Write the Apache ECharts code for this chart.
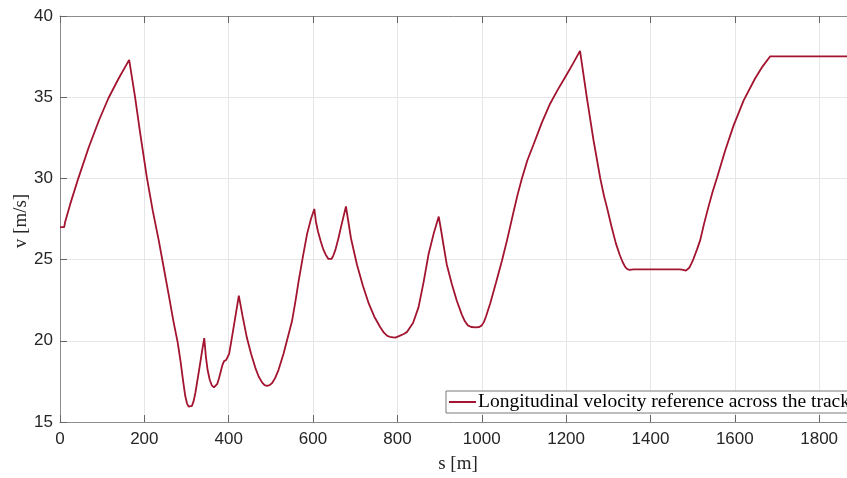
<!DOCTYPE html>
<html>
<head>
<meta charset="utf-8">
<script src="https://cdn.jsdelivr.net/npm/echarts@6/dist/echarts.min.js"></script>
<style>
  html, body { margin: 0; padding: 0; background: #fff; }
  #chart { width: 847px; height: 478px; }
</style>
</head>
<body>
<div id="chart"></div>
<script>
// Distance along the track [m]
const trackS = [
  0, 10, 12, 24, 44, 68, 92, 115, 139, 164, 178, 190, 206, 220, 234, 246, 258, 269, 279, 286,
  292, 297, 301, 305, 309, 313, 317, 321, 326, 331, 337, 342, 346, 350, 355, 360, 365, 369, 373, 377,
  381, 385, 389, 394, 398, 401, 405, 414, 424, 433, 443, 453, 463, 471, 479, 485, 491, 497, 503, 510,
  518, 530, 540, 550, 558, 566, 576, 586, 595, 603, 607, 612, 618, 624, 630, 636, 640, 644, 648, 653,
  660, 668, 678, 690, 704, 718, 732, 745, 759, 768, 776, 785, 795, 805, 815, 823, 837, 850, 862, 874,
  886, 898, 903, 908, 917, 929, 941, 953, 960, 967, 975, 985, 994, 1000, 1005, 1010, 1020, 1034, 1048, 1060,
  1075, 1085, 1095, 1108, 1123, 1142, 1162, 1180, 1198, 1216, 1233, 1249, 1265, 1281, 1290, 1297, 1307, 1318, 1327, 1334,
  1340, 1345, 1350, 1360, 1400, 1470, 1478, 1484, 1488, 1492, 1497, 1502, 1510, 1518, 1527, 1537, 1547, 1558, 1577, 1597,
  1621, 1648, 1666, 1684, 1870
];
// Reference longitudinal velocity [m/s]
const speedRef = [
  27.0, 27.0, 27.3, 28.4, 30.05, 31.9, 33.55, 34.95, 36.15, 37.3, 35.0, 32.8, 30.05, 28.0, 26.2, 24.5, 22.8, 21.2, 19.9, 18.7,
  17.5, 16.6, 16.15, 15.95, 15.9, 16.0, 16.3, 16.8, 17.6, 18.4, 19.4, 20.17, 19.0, 18.2, 17.6, 17.25, 17.13, 17.15, 17.35, 17.7,
  18.1, 18.5, 18.75, 18.82, 18.9, 19.2, 19.8, 21.2, 22.78, 21.5, 20.2, 19.2, 18.35, 17.8, 17.44, 17.27, 17.23, 17.27, 17.4, 17.7,
  18.2, 19.2, 20.2, 21.2, 22.4, 23.7, 25.2, 26.6, 27.5, 28.12, 27.3, 26.7, 26.15, 25.65, 25.3, 25.05, 25.0, 25.05, 25.25, 25.6,
  26.3, 27.2, 28.27, 26.3, 24.7, 23.4, 22.3, 21.5, 20.85, 20.5, 20.3, 20.22, 20.2, 20.3, 20.42, 20.55, 21.1, 22.06, 23.6, 25.35,
  26.6, 27.65, 26.9, 26.1, 24.7, 23.5, 22.45, 21.6, 21.2, 20.95, 20.85, 20.83, 20.85, 20.95, 21.15, 21.5, 22.3, 23.6, 24.95, 26.2,
  27.9, 29.0, 29.98, 31.1, 32.1, 33.4, 34.6, 35.45, 36.24, 37.05, 37.85, 35.0, 32.35, 30.0, 28.9, 28.2, 27.1, 26.0, 25.3, 24.85,
  24.55, 24.42, 24.37, 24.4, 24.4, 24.4, 24.37, 24.32, 24.35, 24.5, 24.75, 25.05, 25.6, 26.2, 27.2, 28.2, 29.15, 30.05, 31.7, 33.25,
  34.8, 36.15, 36.9, 37.52, 37.52
];
const seriesName = 'Longitudinal velocity reference across the track';
const xLabel = 's [m]';
const yLabel = 'v [m/s]';

const chart = echarts.init(document.getElementById('chart'), null, { renderer: 'canvas' });

const axisGrey = '#8c8c8c';
const labelColor = '#262626';
const tickFont = { fontFamily: 'Liberation Sans, Arial, sans-serif', fontSize: 17, color: labelColor };
const serifFont = 'Liberation Serif, Times New Roman, serif';

const xCommon = {
  type: 'value', min: 0, max: 1866, interval: 200,
  axisLine: { show: true, onZero: false, lineStyle: { color: axisGrey, width: 1 } },
  axisTick: { show: true, inside: true, length: 7, lineStyle: { color: '#666' } }
};

chart.setOption({
  animation: false,
  backgroundColor: '#fff',
  grid: { left: 60, top: 16, right: 0, bottom: 56, containLabel: false },
  legend: {
    show: true,
    left: 446, top: 391,
    orient: 'horizontal',
    backgroundColor: '#fff',
    borderColor: '#7a7a7a', borderWidth: 1,
    padding: [1, 6, 1, 3],
    itemWidth: 27, itemHeight: 2, itemGap: 0,
    icon: 'rect',
    textStyle: { fontFamily: serifFont, fontSize: 19.5, color: '#000', padding: [0, 0, 0, -3] },
    data: [seriesName]
  },
  xAxis: [
    Object.assign({}, xCommon, {
      position: 'bottom',
      axisLabel: Object.assign({ margin: 9, showMaxLabel: false, formatter: v => String(v) }, tickFont),
      splitLine: { show: true, lineStyle: { color: '#e6e6e6', width: 1 } }
    }),
    Object.assign({}, xCommon, {
      position: 'top',
      axisLabel: { show: false },
      splitLine: { show: false }
    })
  ],
  yAxis: {
    type: 'value', min: 15, max: 40, interval: 5,
    axisLine: { show: true, lineStyle: { color: axisGrey, width: 1 } },
    axisTick: { show: true, inside: true, length: 7, lineStyle: { color: '#666' } },
    axisLabel: Object.assign({ margin: 7, formatter: v => String(v) }, tickFont),
    splitLine: { show: true, lineStyle: { color: '#e6e6e6', width: 1 } }
  },
  graphic: [
    {
      type: 'text', x: 458, y: 464,
      style: { text: xLabel, fontFamily: serifFont, fontSize: 19, fill: labelColor, textAlign: 'center', textVerticalAlign: 'middle' }
    },
    {
      type: 'text', x: 21, y: 221, rotation: Math.PI / 2,
      style: { text: yLabel, fontFamily: serifFont, fontSize: 19, fill: labelColor, textAlign: 'center', textVerticalAlign: 'middle' }
    }
  ],
  series: [{
    name: seriesName,
    type: 'line',
    data: trackS.map((s, i) => [s, speedRef[i]]),
    showSymbol: false,
    symbol: 'none',
    smooth: false,
    clip: true,
    lineStyle: { color: '#A2142F', width: 1.8 },
    itemStyle: { color: '#A2142F' }
  }]
});
</script>
</body>
</html>
